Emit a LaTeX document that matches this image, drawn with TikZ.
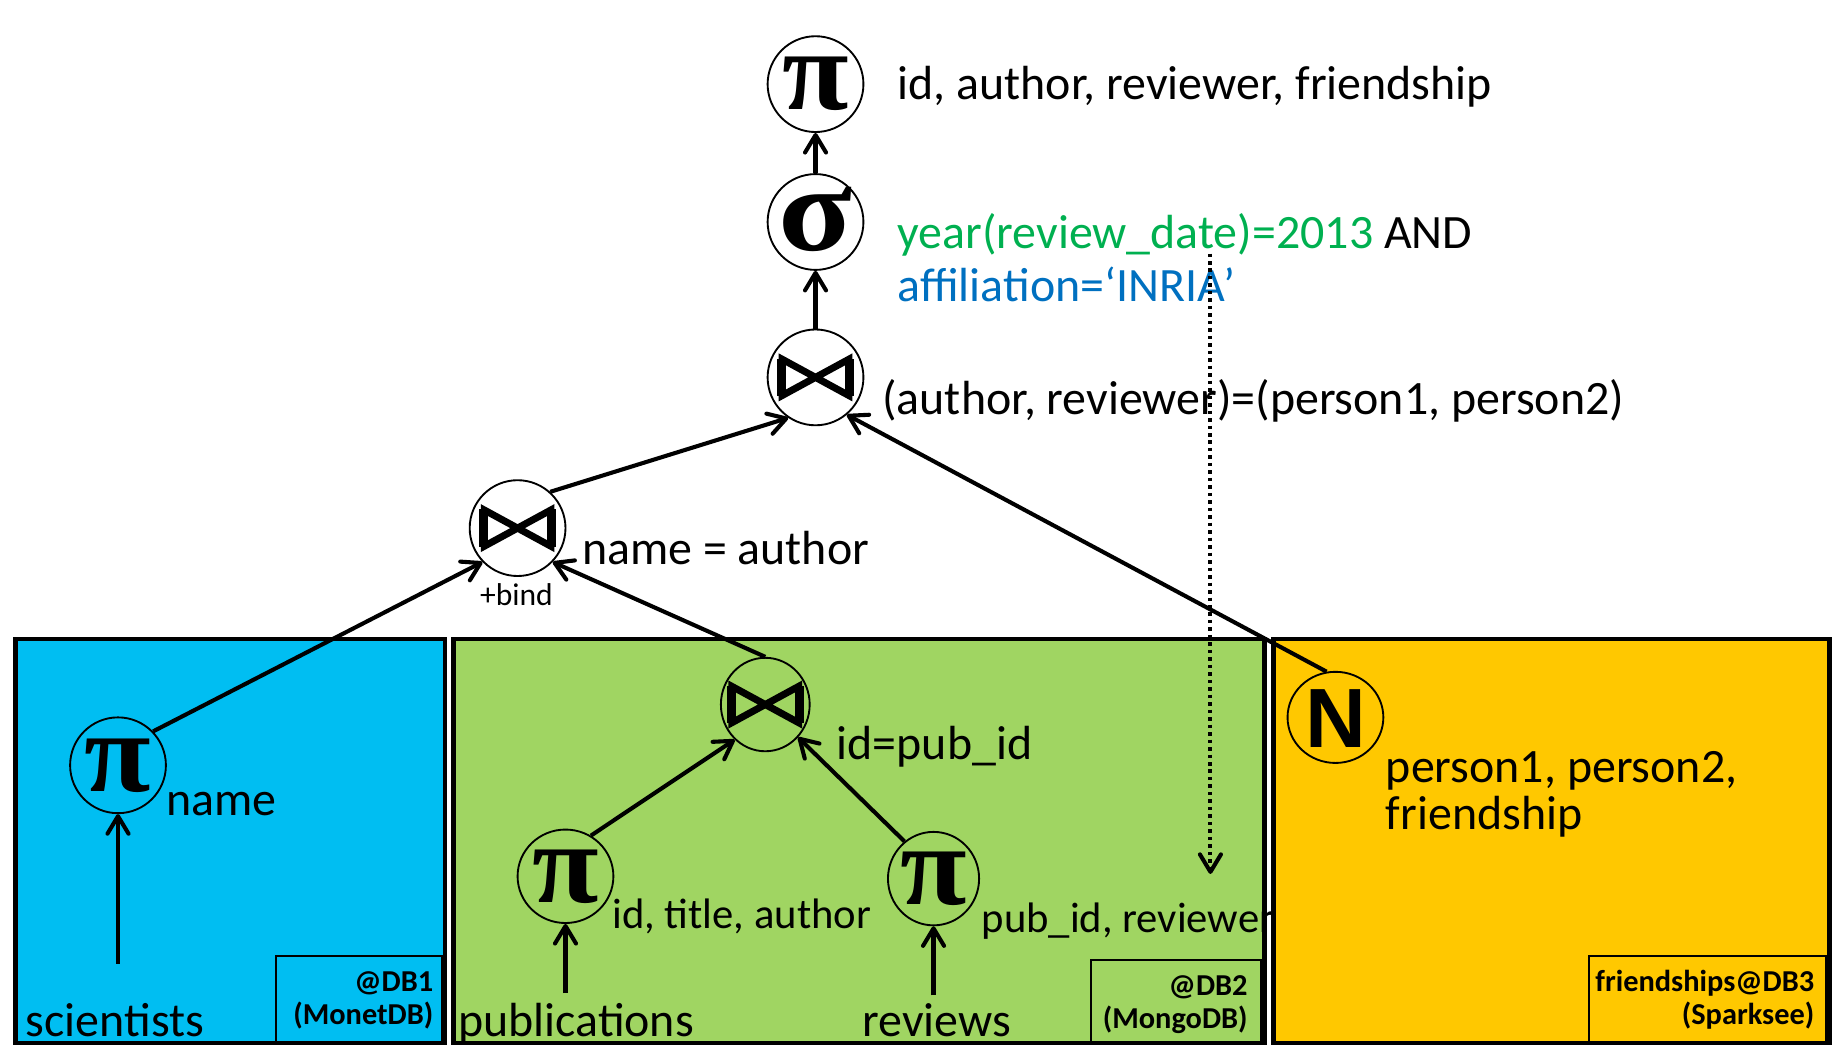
\documentclass[tikz,border=0pt]{standalone}
\usepackage{fontspec}
\setmainfont{Carlito}
\newfontfamily\greekfont{Liberation Serif}
\newfontfamily\opfont{Liberation Sans}
\usetikzlibrary{arrows.meta,shapes.geometric}
\definecolor{dbblue}{RGB}{0,190,242}
\definecolor{dbgreen}{RGB}{160,213,98}
\definecolor{dbgold}{RGB}{255,200,0}
\definecolor{condgreen}{RGB}{0,176,80}
\definecolor{condblue}{RGB}{0,112,192}
\newcommand{\glyphpi}{{\greekfont\bfseries\fontsize{98}{98}\selectfont\makebox[0pt]{\raisebox{-0.225em}[0pt][0pt]{\scalebox{1.06}[1]{π}}}}}
\newcommand{\glyphsigma}{{\greekfont\bfseries\fontsize{104}{104}\selectfont\makebox[0pt]{\raisebox{-0.235em}[0pt][0pt]{\scalebox{1.12}[1]{σ}}}}}
\newcommand{\glyphN}{{\opfont\bfseries\fontsize{72}{72}\selectfont\makebox[0pt]{\raisebox{-0.36em}[0pt][0pt]{N}}}}
\tikzset{
  op/.style={ellipse, draw, line width=1.6pt, inner sep=0pt, minimum width=82pt, minimum height=82pt},
  bowtie/.style={path picture={
      \draw[line width=6pt, line join=miter]
      ([shift={(-28.5pt,-15.5pt)}]path picture bounding box.center) -- ++(57pt,31pt) -- ++(0pt,-31pt) -- ++(-57pt,31pt) -- cycle;
      \draw[line width=8pt]
      ([shift={(-29pt,-16pt)}]path picture bounding box.center) -- ++(0pt,32pt);
      \draw[line width=8pt]
      ([shift={(29pt,-16pt)}]path picture bounding box.center) -- ++(0pt,32pt);}},
  lbl/.style={anchor=base west, inner sep=0pt, font=\fontsize{41}{49}\selectfont},
  sublbl/.style={anchor=base west, inner sep=0pt, font=\fontsize{36.5}{44}\selectfont},
  smalllbl/.style={anchor=base, inner sep=0pt, font=\fontsize{27}{32}\selectfont},
  dblbl/.style={anchor=base east, inner sep=0pt, align=right, font=\bfseries\fontsize{26}{28}\selectfont},
  conn/.style={line width=3.5pt, -{Straight Barb[length=15pt,width=18pt,round]}},
  dotconn/.style={line width=3.5pt, dash pattern=on 3pt off 3.4pt, -{Straight Barb[length=15pt,width=18pt,round]}},
  dbbox/.style={draw, line width=4pt},
  tagbox/.style={draw, line width=1.6pt},
}
\begin{document}
\begin{tikzpicture}[x=1pt,y=-1pt]
\useasboundingbox (0,0) rectangle (1568,894);
\clip (0,0) rectangle (1568,894);
% database boxes
\path[dbbox, fill=dbblue] (13,547) rectangle (381,893);
\path[dbbox, fill=dbgreen] (388,547) rectangle (1082,893);
\node[sublbl] (lpirev) at (840,798) {pub\_id, reviewer};
\path[dbbox, fill=dbgold] (1090,547) rectangle (1566,893);
\path[tagbox] (236,818) rectangle (378,893);
\path[tagbox] (934,822) rectangle (1079,893);
\path[tagbox] (1360,818) rectangle (1563,893);
\node[dblbl] (db1) at (371,877) {@DB1\\(MonetDB)};
\node[dblbl] (db2) at (1068,880) {@DB2\\(MongoDB)};
\node[dblbl] (db3) at (1553,877) {friendships@DB3\\(Sparksee)};

% operator nodes
\node[op] (pitop) at (698,72) {\glyphpi};
\node[op] (sigma) at (698,190) {\glyphsigma};
\node[op, bowtie] (join1) at (698,323) {};
\node[op, bowtie] (join2) at (443,452) {};
\node[op] (piname) at (101,655) {\glyphpi};
\node[op, bowtie, minimum width=76pt, minimum height=80pt] (join3) at (655,603) {};
\node[op, minimum height=80pt] (pipub) at (484,750) {\glyphpi};
\node[op, minimum width=78pt, minimum height=80pt] (pirev) at (799,752) {\glyphpi};
\node[op, minimum height=78pt] (nnode) at (1143,614) {\glyphN};

% labels
\node[lbl] (lpitop) at (768,85) {id, author, reviewer, friendship};
\node[lbl] (lsig1) at (768,213) {\textcolor{condgreen}{year(review\_date)=2013} AND};
\node[lbl, text=condblue] (lsig2) at (768,258) {affiliation=‘INRIA’};
\node[lbl] (ljoin1) at (755,355) {(author, reviewer)=(person1, person2)};
\node[lbl] (ljoin2) at (498,483) {name = author};
\node[smalllbl] (lbind) at (442,518) {+bind};
\node[lbl] (lpiname) at (142,698) {name};
\node[lbl] (ljoin3) at (716,650) {id=pub\_id};
\node[sublbl] (lpipub) at (524,795) {id, title, author};
\node[lbl] (ln1) at (1186,670) {person1, person2,};
\node[lbl] (ln2) at (1186,710) {friendship};
\node[lbl] (sci) at (22,887) {scientists};
\node[lbl] (pubs) at (392,887) {publications};
\node[lbl] (revs) at (738,887) {reviews};

% free ends
\coordinate (scitop) at (101,825);
\coordinate (pubtop) at (484,850);
\coordinate (revtop) at (799,852);
\coordinate (dtop) at (1036,217);
\coordinate (dbot) at (1036,748);

% connectors
\draw[conn] (sigma.north) -- (pitop.south);
\draw[conn] (join1.north) -- (sigma.south);
\draw[conn] (join2.48) -- (join1.236);
\draw[conn] (piname.44) -- (join2.224);
\draw[conn] (join3.north) -- (join2.316);
\draw[conn] (nnode.101) -- (join1.310);
\draw[conn] (pipub.58) -- (join3.229);
\draw[conn] (pirev.128) -- (join3.315);
\draw[conn] (scitop) -- (piname.south);
\draw[conn] (pubtop) -- (pipub.south);
\draw[conn] (revtop) -- (pirev.south);
\draw[dotconn] (dtop) -- (dbot);
\end{tikzpicture}
\end{document}
